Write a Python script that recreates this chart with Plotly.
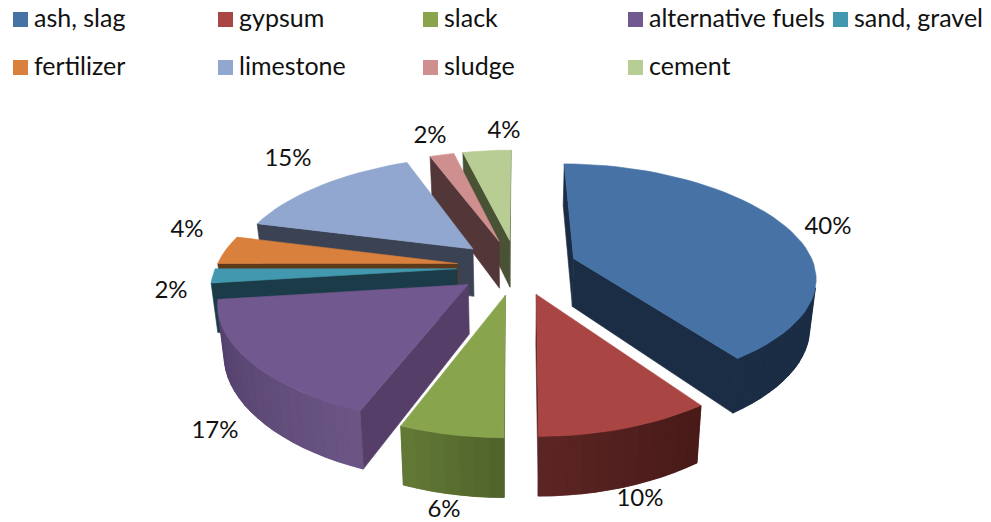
import math
import plotly.graph_objects as go

# Material deliveries by share of total (percent)
categories = ["ash, slag", "gypsum", "slack", "alternative fuels", "sand, gravel",
              "fertilizer", "limestone", "sludge", "cement"]
shares = [40, 10, 6, 17, 2, 4, 15, 2, 4]

# Slice colours: top face, cut walls, outer rim from its start to its end
top_colors = ["#4672A6", "#A94543", "#88A54E", "#71588F", "#4198AF",
              "#D9803C", "#91A7CF", "#CE8F8E", "#B8CD93"]
wall_colors = ["#1B2D45", "#5A2422", "#4F6129", "#553F68", "#1A3B47",
               "#5E3A1A", "#3A4254", "#533637", "#4A5236"]
rim_start = ["#1B2D45", "#471A18", "#4F6129", "#6B5686", "#1A3B47",
             "#5E3A1A", "#3A4254", "#533637", "#4A5236"]
rim_end = ["#1B2D45", "#5C2523", "#647B37", "#513D68", "#1A3B47",
           "#5E3A1A", "#3A4254", "#533637", "#4A5236"]

# Pie geometry on the page: centre, radii, explosion, thickness and perspective
CX, CY = 517.0, 267.0
RX, RY = 241.0, 111.3
EXPLODE = 0.25
DEPTH = 48.5
PERSP_X = (0.16, 0.035)
PERSP_Y = 0.151
BASE_SHRINK = 0.978

# Data label anchors and legend layout
label_xy = [(828, 228), (640, 500), (444, 511), (215, 432), (171, 292),
            (187, 231), (288, 160), (430, 137), (504, 132)]
legend_cols = [13, 218, 423, 628, 833, 13, 218, 423, 628]
legend_rows = [19.5, 19.5, 19.5, 19.5, 19.5, 67.5, 67.5, 67.5, 67.5]
FONT = "Lato"


def project(gx, gy, base=False):
    """Map a point of the pie's ground plane to page coordinates."""
    sx = 1.0 / (1.0 + PERSP_X[0] * gy + PERSP_X[1] * gy * gy)
    sy = 1.0 / (1.0 + PERSP_Y * gy)
    shrink = BASE_SHRINK if base else 1.0
    px = CX + RX * gx * sx * shrink
    py = CY - RY * gy * sy + (DEPTH * sy if base else 0.0)
    return px, py


def mix(c0, c1, t):
    a = [int(c0[i:i + 2], 16) for i in (1, 3, 5)]
    b = [int(c1[i:i + 2], 16) for i in (1, 3, 5)]
    return "#" + "".join(f"{round(p + (q - p) * t):02X}" for p, q in zip(a, b))


def signed_area(pts):
    return 0.5 * sum(pts[i][0] * pts[(i + 1) % len(pts)][1] -
                     pts[(i + 1) % len(pts)][0] * pts[i][1] for i in range(len(pts)))


def polygon(fig, pts, color, name):
    fig.add_trace(go.Scatter(
        x=[p[0] for p in pts] + [pts[0][0]],
        y=[p[1] for p in pts] + [pts[0][1]],
        mode="lines", fill="toself", fillcolor=color,
        line=dict(color=color, width=0.6),
        name=name, showlegend=False, hoverinfo="skip",
    ))


def side_quad(p, q):
    return [project(*p), project(*q), project(*q, base=True), project(*p, base=True)]


def side_face(fig, p, q, color, name):
    # Quad hanging below the ground-plane edge p -> q, skipped when it faces away
    quad = side_quad(p, q)
    if signed_area(quad) < 0:
        polygon(fig, quad, color, name)


total = sum(shares)
slices = []
start = 0.0
for i, share in enumerate(shares):
    sweep = 360.0 * share / total
    slices.append((i, start, start + sweep))
    start += sweep

# Paint from the back of the pie to the front
slices.sort(key=lambda s: -math.cos(math.radians((s[1] + s[2]) / 2)))

fig = go.Figure()
for i, a0, a1 in slices:
    mid = math.radians((a0 + a1) / 2)
    ox, oy = EXPLODE * math.sin(mid), EXPLODE * math.cos(mid)
    n = max(4, int((a1 - a0) / 3))
    ground = []
    for k in range(n + 1):
        ang = math.radians(a0 + (a1 - a0) * k / n)
        ground.append((ox + math.sin(ang), oy + math.cos(ang)))
    apex = (ox, oy)
    name = categories[i]

    side_face(fig, apex, ground[0], wall_colors[i], name)

    # One solid strip under the shaded rim keeps the background out of the seams
    visible = [k for k in range(n) if signed_area(side_quad(ground[k], ground[k + 1])) < 0]
    if visible:
        run = ground[visible[0]:visible[-1] + 2]
        strip = [project(*g) for g in run] + [project(*g, base=True) for g in reversed(run)]
        polygon(fig, strip, mix(rim_start[i], rim_end[i], 0.5), name)
    for k in visible:
        side_face(fig, ground[k], ground[k + 1],
                  mix(rim_start[i], rim_end[i], (k + 0.5) / n), name)

    side_face(fig, ground[-1], apex, wall_colors[i], name)
    polygon(fig, [project(*apex)] + [project(*g) for g in ground], top_colors[i], name)

# Percentage labels
fig.add_trace(go.Scatter(
    x=[p[0] for p in label_xy], y=[p[1] for p in label_xy],
    text=[f"{v}%" for v in shares], mode="text", textposition="middle center",
    textfont=dict(family=FONT, size=24, color="#111111"),
    showlegend=False, hoverinfo="skip",
))

# Legend swatches and names
fig.add_trace(go.Scatter(
    x=[c + 7.5 for c in legend_cols], y=legend_rows, mode="markers",
    marker=dict(symbol="square", size=15, color=top_colors, line=dict(width=0)),
    showlegend=False, hoverinfo="skip",
))
fig.add_trace(go.Scatter(
    x=[c + 21 for c in legend_cols], y=[r + 1 for r in legend_rows],
    text=categories, mode="text", textposition="middle right",
    textfont=dict(family=FONT, size=25, color="#111111"),
    showlegend=False, hoverinfo="skip",
))

fig.update_layout(
    width=991, height=522,
    margin=dict(l=0, r=0, t=0, b=0),
    paper_bgcolor="white", plot_bgcolor="white",
    xaxis=dict(range=[0, 991], visible=False, fixedrange=True),
    yaxis=dict(range=[522, 0], visible=False, fixedrange=True),
)
fig.write_html("out.html")
